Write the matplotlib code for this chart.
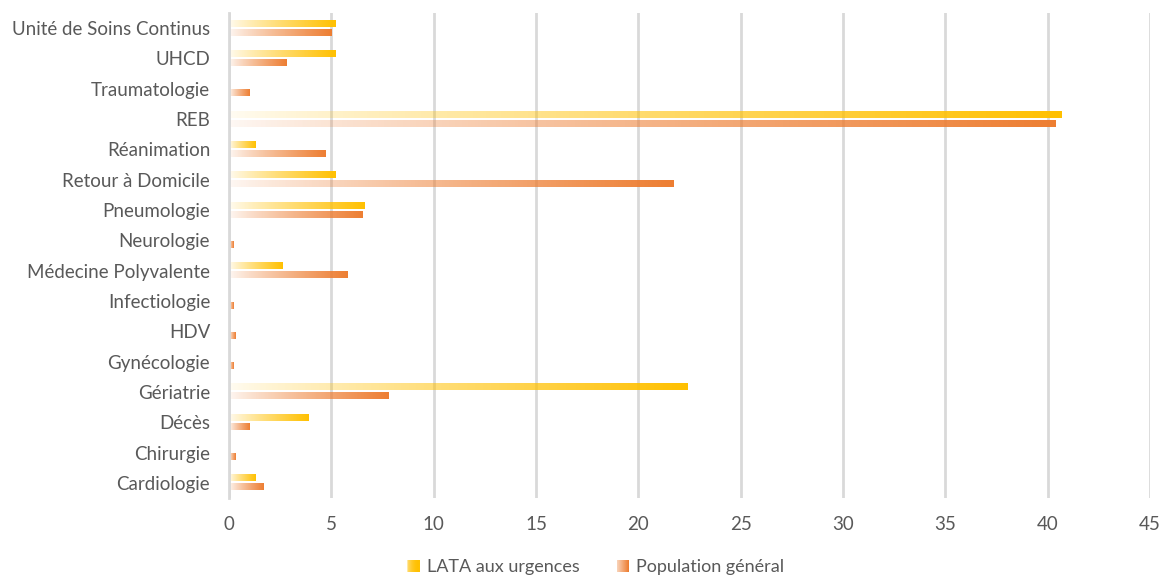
import numpy as np
import matplotlib
matplotlib.use("Agg")
import matplotlib.pyplot as plt
from matplotlib.colors import to_rgb
from matplotlib.legend_handler import HandlerBase
from matplotlib.patches import Rectangle

categories = [
    "Cardiologie", "Chirurgie", "Décès", "Gériatrie", "Gynécologie", "HDV",
    "Infectiologie", "Médecine Polyvalente", "Neurologie", "Pneumologie",
    "Retour à Domicile", "Réanimation", "REB", "Traumatologie", "UHCD",
    "Unité de Soins Continus",
]
lata_urgences = [1.3, 0.0, 3.9, 22.4, 0.0, 0.0, 0.0, 2.6, 0.0, 6.6,
                 5.2, 1.3, 40.7, 0.0, 5.2, 5.2]
population_general = [1.7, 0.3, 1.0, 7.8, 0.2, 0.3, 0.2, 5.8, 0.2, 6.5,
                      21.7, 4.7, 40.4, 1.0, 2.8, 5.0]
series_names = ["LATA aux urgences", "Population général"]
series_colors = ["#FFC000", "#ED7D31"]
xticks = list(range(0, 50, 5))

plt.rcParams["font.family"] = ["Lato", "DejaVu Sans"]
text_color = "#595959"
grid_color = "#D9D9D9"


def gradient_image(color, n=512):
    rgb = np.array(to_rgb(color))
    t = np.linspace(0.0, 1.0, n)
    img = np.zeros((1, n, 4))
    img[:, :, :3] = rgb
    img[:, :, 3] = 0.05 + 0.95 * t ** 0.85
    return img


class GradientHandler(HandlerBase):
    def __init__(self, color):
        super().__init__()
        self.color = color

    def create_artists(self, legend, orig_handle, xdescent, ydescent,
                       width, height, fontsize, trans):
        rgb = to_rgb(self.color)
        size = height * 0.95
        x0 = width - size - xdescent
        y0 = -ydescent + (height - size) / 2
        steps = 12
        artists = []
        for i in range(steps):
            a = 0.3 + 0.7 * (i + 1) / steps
            r = Rectangle((x0 + i * size / steps, y0), size / steps + 0.2, size,
                          facecolor=(*rgb, a), edgecolor="none",
                          transform=trans)
            artists.append(r)
        return artists


fig = plt.figure(figsize=(11.61, 5.79), dpi=100)
ax = fig.add_axes([229 / 1161, 1 - 498 / 579, (1150 - 229) / 1161, (498 - 13) / 579])

y = np.arange(len(categories))
bar_h = 0.2
offset = 0.15

for vals, color, off in [(lata_urgences, series_colors[0], offset),
                         (population_general, series_colors[1], -offset)]:
    bars = ax.barh(y + off, vals, height=bar_h, facecolor="none",
                   edgecolor="none", zorder=3)
    grad = gradient_image(color)
    for b in bars:
        w = b.get_width()
        if w <= 0:
            continue
        ax.imshow(grad, extent=[b.get_x(), b.get_x() + w, b.get_y(),
                                b.get_y() + b.get_height()],
                  aspect="auto", interpolation="nearest", zorder=2.5)

ax.set_xlim(0, 45)
ax.set_ylim(-0.5, len(categories) - 0.5)
ax.set_xticks(xticks)
ax.set_yticks(y)
ax.set_yticklabels(categories)
ax.tick_params(axis="both", length=0, colors=text_color, labelsize=13.5)
ax.tick_params(axis="x", pad=13)
ax.tick_params(axis="y", pad=13.5)
ax.grid(axis="x", color=grid_color, linewidth=2, zorder=0)
ax.set_axisbelow(True)
for s in ["top", "right", "bottom"]:
    ax.spines[s].set_visible(False)
ax.spines["left"].set_color(grid_color)
ax.spines["left"].set_linewidth(2)

handles = [Rectangle((0, 0), 1, 1), Rectangle((0, 0), 1, 1)]
leg = fig.legend(handles, series_names, loc="center",
                 bbox_to_anchor=(595 / 1161, 1 - 567 / 579), ncol=2, frameon=False,
                 fontsize=13, handlelength=0.75, handletextpad=0.4,
                 columnspacing=2.0,
                 handler_map={handles[0]: GradientHandler(series_colors[0]),
                              handles[1]: GradientHandler(series_colors[1])})
for t in leg.get_texts():
    t.set_color(text_color)

fig.savefig("out.png", dpi=100)
